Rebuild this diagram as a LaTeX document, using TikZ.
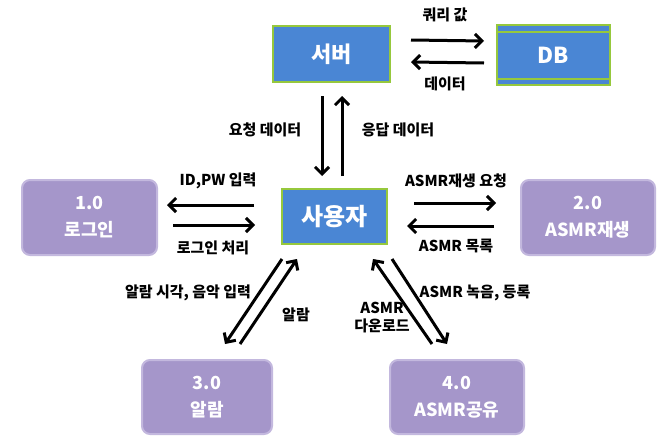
\documentclass[tikz,border=0pt]{standalone}
\usepackage{fontspec}
\setmainfont{Noto Sans CJK KR}
\usetikzlibrary{arrows.meta}
\definecolor{boxblue}{HTML}{4A86D4}
\definecolor{boxgreen}{HTML}{96C83C}
\definecolor{boxpurple}{HTML}{A596CA}
\definecolor{purpleedge}{HTML}{C3B8DE}
\tikzset{
  bluebox/.style={draw=boxgreen, line width=2pt, fill=boxblue, text=white,
    font=\bfseries\fontsize{22}{26}\selectfont, inner sep=0pt},
  procbox/.style={draw=purpleedge, line width=2pt, fill=boxpurple, rounded corners=8pt,
    text=white, align=center, inner sep=0pt,
    font=\bfseries\fontsize{18}{27}\selectfont},
  arr/.style={draw=black, line width=3pt, -{Straight Barb[length=7pt,width=14pt,line width=3pt]}},
  lbl/.style={font=\bfseries\fontsize{15}{18}\selectfont, text=black, inner sep=0pt, align=center}
}
\begin{document}
\begin{tikzpicture}[x=1pt,y=-1pt]
\useasboundingbox (0,0) rectangle (667,439);
\fill[white] (0,0) rectangle (667,439);

% nodes
\node[bluebox, minimum width=117pt, minimum height=56pt] (srv) at (331.5,54) {서버};
\node[bluebox, minimum width=113pt, minimum height=60pt] (db) at (553.5,55) {DB};
\draw[boxgreen, line width=1.5pt] ([yshift=-8pt]db.north west) -- ([yshift=-8pt]db.north east);
\draw[boxgreen, line width=1.5pt] ([yshift=7pt]db.south west) -- ([yshift=7pt]db.south east);
\node[bluebox, minimum width=105pt, minimum height=55pt, font=\bfseries\fontsize{24}{28}\selectfont] (usr) at (334.5,216.5) {사용자};
\node[procbox, minimum width=135pt, minimum height=75pt] (login) at (89.5,217.5) {1.0\\로그인};
\node[procbox, minimum width=134pt, minimum height=75pt] (play) at (588,217.5) {2.0\\ASMR재생};
\node[procbox, minimum width=130pt, minimum height=74pt] (alarm) at (207,397) {3.0\\알람};
\node[procbox, minimum width=134pt, minimum height=74pt] (share) at (457,397) {4.0\\ASMR공유};

% server <-> DB
\draw[arr] ([shift={(20,-14)}]srv.east) -- ([shift={(-12,-14)}]db.west);
\draw[arr] ([shift={(-12,8)}]db.west) -- ([shift={(20,8)}]srv.east);
\node[lbl] (q) at (445,15) {쿼리 값};
\node[lbl] (d) at (445,84) {데이터};

% server <-> user
\draw[arr] ([shift={(-9.5,13)}]srv.south) -- ([shift={(-12.5,-12)}]usr.north);
\draw[arr] ([shift={(7.5,-12)}]usr.north) -- ([shift={(10.5,13)}]srv.south);
\node[lbl] (req) at (265,130) {요청 데이터};
\node[lbl] (res) at (398,130) {응답 데이터};

% user <-> login
\draw[arr] ([shift={(-27,-11.5)}]usr.west) -- ([shift={(9,-12.5)}]login.east);
\draw[arr] ([shift={(15,7.5)}]login.east) -- ([shift={(-26,8.5)}]usr.west);
\node[lbl] (idpw) at (218,181) {ID,PW 입력};
\node[lbl] (lp) at (213,248) {로그인 처리};

% user <-> play
\draw[arr] ([shift={(26,-13.5)}]usr.east) -- ([shift={(-24,-14.5)}]play.west);
\draw[arr] ([shift={(-26,8.5)}]play.west) -- ([shift={(19,9.5)}]usr.east);
\node[lbl] (preq) at (456,181) {ASMR재생 요청};
\node[lbl] (plist) at (456,246) {ASMR 목록};

% user <-> alarm
\draw[arr] ([shift={(-52.5,14)}]usr.south) -- ([shift={(18,-15)}]alarm.north);
\draw[arr] ([shift={(33,-15)}]alarm.north) -- ([shift={(-37.5,14)}]usr.south);
\node[lbl] (ain) at (188,293) {알람 시각, 음악 입력};
\node[lbl] (al) at (296,315) {알람};

% user <-> share
\draw[arr] ([shift={(-25,-15)}]share.north) -- ([shift={(38.5,14)}]usr.south);
\draw[arr] ([shift={(57.5,14)}]usr.south) -- ([shift={(-10,-15)}]share.north);
\node[lbl] (rec) at (475,293) {ASMR 녹음, 등록};
\node[lbl, font=\bfseries\fontsize{15}{18}\selectfont] (dl) at (382,318) {ASMR\\다운로드};
\end{tikzpicture}
\end{document}
